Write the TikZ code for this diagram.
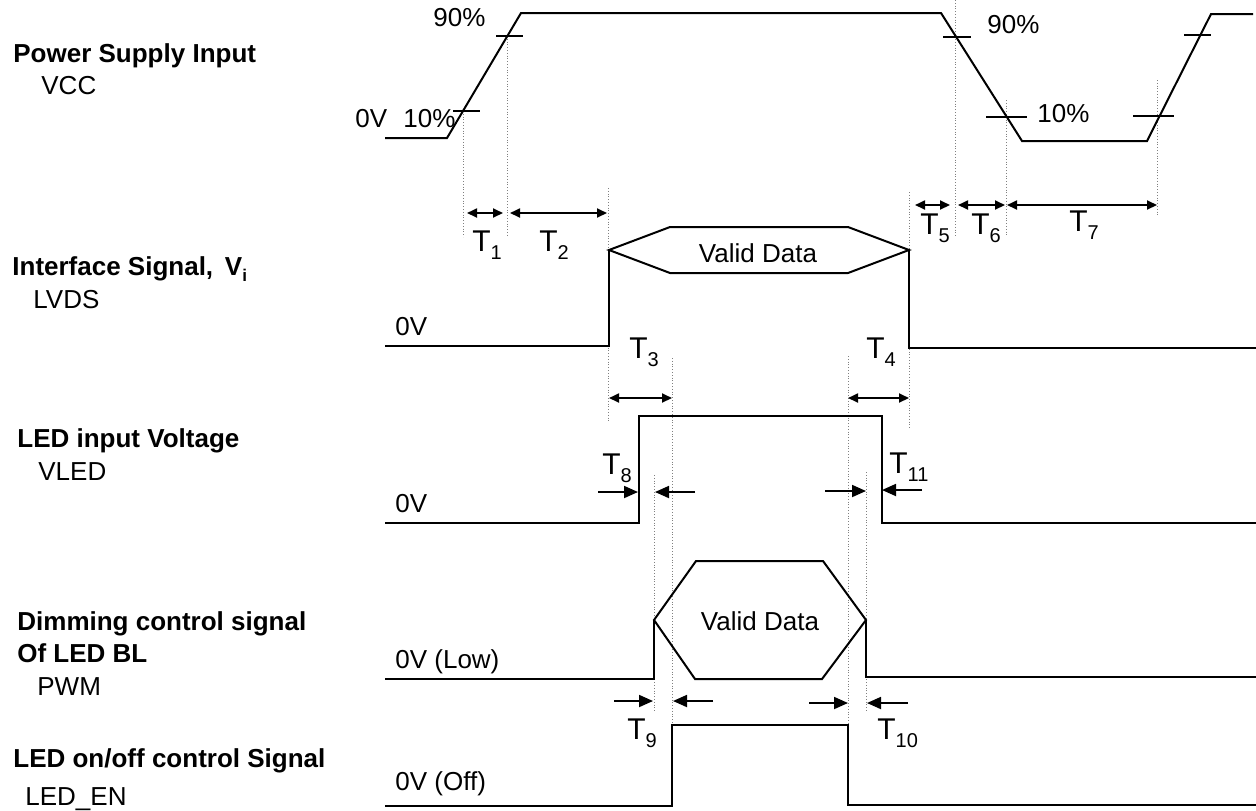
\documentclass[tikz,border=0pt]{standalone}
\usepackage{fontspec}
\setmainfont{Liberation Sans}
\usetikzlibrary{arrows.meta}

\newcommand{\Tsub}[1]{T\raisebox{-4pt}{\fontsize{10}{10}\selectfont #1}}

\begin{document}
\begin{tikzpicture}[x=0.5pt,y=-0.5pt,font=\fontsize{13}{15}\selectfont]
\tikzset{sig/.style={line width=1pt},
  guide/.style={densely dotted,line width=0.4pt,color=gray},
  tickmark/.style={line width=0.9pt},
  dimline/.style={{Triangle[length=5pt,width=4.5pt]}-{Triangle[length=5pt,width=4.5pt]},line width=0.9pt},
  ptr/.style={-{Triangle[length=7pt,width=6pt]},line width=0.9pt},
  sigtitle/.style={anchor=base west,inner sep=0pt,font=\fontsize{13}{15}\selectfont\bfseries},
  signame/.style={anchor=base west,inner sep=0pt},
  lvl/.style={anchor=base west,inner sep=0pt},
  tlabel/.style={anchor=base west,inner sep=0pt,font=\fontsize{15}{16}\selectfont}}
\useasboundingbox (0,0) rectangle (1256,810);
% signal names
\node[sigtitle] (vcc title) at (13,62) {Power Supply Input};
\node[signame] (vcc name) at (41,94) {VCC};
\node[sigtitle] (lvds title) at (12,275) {Interface Signal,\hspace{0.45em}V\raisebox{-3pt}{\fontsize{8.5}{9}\selectfont i}};
\node[signame] (lvds name) at (33,308) {LVDS};
\node[sigtitle] (vled title) at (17,447) {LED input Voltage};
\node[signame] (vled name) at (38,480) {VLED};
\node[sigtitle] (pwm title) at (17,630) {Dimming control signal};
\node[sigtitle] (pwm title2) at (17,662) {Of LED BL};
\node[signame] (pwm name) at (37,695) {PWM};
\node[sigtitle] (en title) at (13,767) {LED on/off control Signal};
\node[signame] (en name) at (25,805) {LED\_EN};
% guide lines
\foreach \x/\ya/\yb in {463/111/237, 507/36/237, 608/188/422, 909/192/428, 955/0/237,
  1006/100/237, 1157/80/217, 672/358/725, 848/356/725, 654/475/712, 866/472/712}
  \draw[guide] (\x,\ya) -- (\x,\yb);
% VCC
\draw[sig] (385,138) -- (447,138) -- (521,13) -- (941,13) -- (1022,141) -- (1147,141) -- (1211,14) -- (1253,14);
\draw[tickmark] (453,111) -- (480,111);
\draw[tickmark] (496,36) -- (523,36);
\draw[tickmark] (943,37) -- (971,37);
\draw[tickmark] (986,117) -- (1027,117);
\draw[tickmark] (1133,116) -- (1174,116);
\draw[tickmark] (1184,35) -- (1211,35);
\node[lvl] (vcc zero) at (355,127) {0V};
\node[lvl] (rise ten) at (403,127) {10\%};
\node[lvl] (rise ninety) at (433,26) {90\%};
\node[lvl] (fall ninety) at (987,33) {90\%};
\node[lvl] (fall ten) at (1037,122) {10\%};
% LVDS
\draw[sig] (385,346) -- (609,346) -- (609,250);
\draw[sig] (609,250) -- (670,227) -- (848,227) -- (909,250) -- (848,273) -- (670,273) -- cycle;
\draw[sig] (909,250) -- (909,348) -- (1256,348);
\node[anchor=base] (lvds data) at (758,262) {Valid Data};
\node[lvl] (lvds zero) at (395,335) {0V};
% VLED
\draw[sig] (385,523) -- (639,523) -- (639,416) -- (882,416) -- (882,523) -- (1256,523);
\node[lvl] (vled zero) at (395,512) {0V};
% PWM
\draw[sig] (385,679) -- (654,679) -- (654,620);
\draw[sig] (654,620) -- (696,561) -- (823,561) -- (866,620) -- (822,679) -- (695,679) -- cycle;
\draw[sig] (866,620) -- (866,677) -- (1256,677);
\node[anchor=base] (pwm data) at (760,630) {Valid Data};
\node[lvl] (pwm zero) at (395,668) {0V (Low)};
% LED_EN
\draw[sig] (385,806) -- (672,806) -- (672,725) -- (848,725) -- (848,805) -- (1256,805);
\node[lvl] (en zero) at (395,790) {0V (Off)};
% timing arrows
\draw[dimline] (467,213) -- (503,213);
\draw[dimline] (510,213) -- (607,213);
\draw[dimline] (915,205) -- (950,205);
\draw[dimline] (958,205) -- (1005,205);
\draw[dimline] (1007,205) -- (1157,205);
\draw[dimline] (609,398) -- (672,398);
\draw[dimline] (848,398) -- (909,398);
\draw[ptr] (598,492) -- (638,492);
\draw[ptr] (695,492) -- (655,492);
\draw[ptr] (825,491) -- (866,491);
\draw[ptr] (922,490) -- (882,490);
\draw[ptr] (614,701) -- (653,701);
\draw[ptr] (713,701) -- (673,701);
\draw[ptr] (809,703) -- (848,703);
\draw[ptr] (908,703) -- (867,703);
\node[tlabel] (t1) at (472,251) {\Tsub{1}};
\node[tlabel] (t2) at (539,251) {\Tsub{2}};
\node[tlabel] (t3) at (629,358) {\Tsub{3}};
\node[tlabel] (t4) at (866,358) {\Tsub{4}};
\node[tlabel] (t5) at (920,234) {\Tsub{5}};
\node[tlabel] (t6) at (971,234) {\Tsub{6}};
\node[tlabel] (t7) at (1069,231) {\Tsub{7}};
\node[tlabel] (t8) at (602,474) {\Tsub{8}};
\node[tlabel] (t11) at (889,473) {\Tsub{11}};
\node[tlabel] (t9) at (627,739) {\Tsub{9}};
\node[tlabel] (t10) at (877,739) {\Tsub{10}};
\end{tikzpicture}
\end{document}
